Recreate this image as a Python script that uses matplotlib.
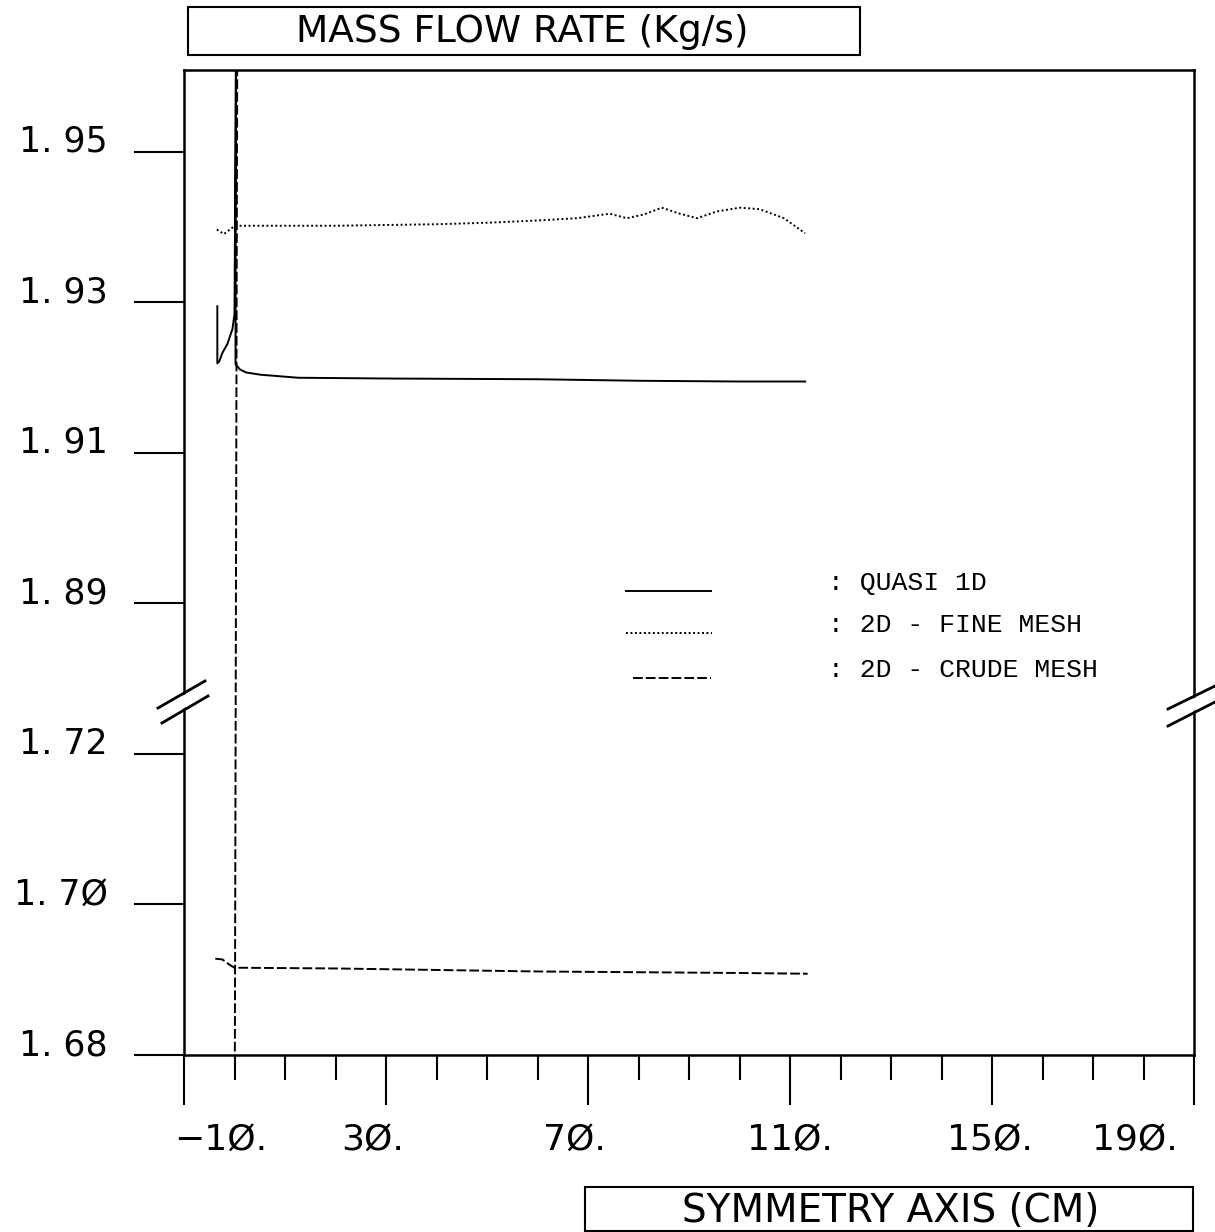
import matplotlib
matplotlib.use("Agg")
import matplotlib.pyplot as plt
import numpy as np
from matplotlib.lines import Line2D
from matplotlib.patches import Rectangle, Polygon
from matplotlib.ticker import FixedLocator, MultipleLocator, NullLocator

# ---- data (x in cm, mass flow in kg/s) ----
quasi_x = [-3.4, -3.4, -3.0, -2.4, -1.4, -0.4, 0.0, 0.4, 0.3, 0.2, 1.1, 2.3, 5.2, 12.6, 30.0, 60.0, 80.0, 100.0, 113.0]
quasi_m = [1.9295, 1.9219, 1.9222, 1.9233, 1.9245, 1.9265, 1.9285, 1.975, 1.975, 1.9218,
           1.9211, 1.9207, 1.9204, 1.9200, 1.9199, 1.9198, 1.9196, 1.9195, 1.9195]

fine_x = [-3.5, -2.1, -1.5, 0.1, 10.0, 20.0, 30.0, 40.0, 50.0, 60.0, 67.8, 74.3, 77.7,
          81.1, 84.6, 88.2, 91.6, 95.5, 100.1, 104.0, 108.8, 113.0]
fine_m = [1.9397, 1.9391, 1.9394, 1.9402, 1.9402, 1.9402, 1.9403, 1.9404, 1.9406, 1.9409,
          1.9412, 1.9418, 1.9412, 1.9417, 1.9426, 1.9418, 1.9412, 1.9421, 1.9426, 1.9424,
          1.9412, 1.9392]

crude_x = [-3.8, -2.4, -1.0, 0.0, 20.0, 40.0, 60.0, 80.0, 100.0, 113.5]
crude_m = [1.6928, 1.6927, 1.6920, 1.6916, 1.6915, 1.6913, 1.6911, 1.6910, 1.6909, 1.6908]
crude_spike_x = [0.0, 0.6]
crude_spike_m = [1.66, 1.98]

xticks = [-10, 30, 70, 110, 150, 190]
xtick_labels = ["\u22121\u00d8.", "3\u00d8.", "7\u00d8.", "11\u00d8.", "15\u00d8.", "19\u00d8."]
yticks = [1.68, 1.70, 1.72, 1.89, 1.91, 1.93, 1.95]
ytick_labels = ["1. 68", "1. 7\u00d8", "1. 72", "1. 89", "1. 91", "1. 93", "1. 95"]
legend_labels = [": QUASI 1D", ": 2D - FINE MESH", ": 2D - CRUDE MESH"]

# plotter put the x labels a bit off their ticks
xlabel_pos = [-2.7, 27.3, 67.4, 110.0, 149.6, 178.3]

W, H = 1215, 1232
U_BREAK = 2.35   # where the axis is cut (in tick units)
V_BREAK = 1.68 + 0.02 * U_BREAK


def fwd(v):
    v = np.asarray(v, dtype=float)
    return np.where(v < V_BREAK, (v - 1.68) / 0.02, 3 + (v - 1.89) / 0.02)


def inv(u):
    u = np.asarray(u, dtype=float)
    return np.where(u < U_BREAK, 1.68 + 0.02 * u, 1.89 + 0.02 * (u - 3))


def fx(px):
    return px / W


def fy(py):
    return 1 - py / H


fig = plt.figure(figsize=(W / 100, H / 100), dpi=100)
ax = fig.add_axes([fx(184), fy(1055), 1010 / W, 985 / H])

ax.set_yscale("function", functions=(fwd, inv))
ax.set_xlim(-10, 190)
ax.set_ylim(1.68, float(inv(985 / 150.5)))

solid = dict(color="k", lw=1.4, ls="-")
dotted = dict(color="k", lw=1.4, ls=(0, (1.0, 1.3)))
dashed = dict(color="k", lw=1.4, ls=(0, (5, 1.6)))

ax.plot(quasi_x, quasi_m, **solid)
ax.plot(fine_x, fine_m, **dotted)
ax.plot(crude_x, crude_m, **dashed)
ax.plot(crude_spike_x, crude_spike_m, **dashed)

for s in ax.spines.values():
    s.set_linewidth(1.8)

ax.xaxis.set_major_locator(FixedLocator(xticks))
ax.xaxis.set_minor_locator(MultipleLocator(10))
ax.yaxis.set_major_locator(FixedLocator(yticks))
ax.yaxis.set_minor_locator(NullLocator())
ax.tick_params(axis="x", which="major", direction="out", length=36, width=1.5, labelbottom=False)
ax.tick_params(axis="x", which="minor", direction="out", length=18, width=1.5)
ax.tick_params(axis="y", which="major", direction="out", length=36, width=1.5, labelleft=False)

for xv, lab in zip(xlabel_pos, xtick_labels):
    ax.text(xv, -0.0964, lab, transform=ax.get_xaxis_transform(), ha="center", va="baseline",
            fontsize=26, family="DejaVu Sans")
for yv, lab in zip(yticks, ytick_labels):
    ax.text(-0.0752, yv, lab, transform=ax.get_yaxis_transform(), ha="right", va="baseline",
            fontsize=25, family="DejaVu Sans")

# legend drawn by hand, like the plotter did
sample_styles = [solid, dotted, dashed]
sample_rows = [(626, 711, 591), (626, 712, 633), (633, 711, 678)]
for (x0, x1, yy), st, lab in zip(sample_rows, sample_styles, legend_labels):
    fig.add_artist(Line2D([fx(x0), fx(x1)], [fy(yy), fy(yy)], transform=fig.transFigure, **st))
    fig.text(fx(828), fy(yy - 1), lab, ha="left", va="baseline", fontsize=19, family="Liberation Mono")

# axis break marks
for (x0, y0, x1, y1), (x2, y2, x3, y3) in [((158, 708, 205, 681), (162, 723, 208, 696)),
                                           ((1168, 709, 1215, 686), (1168, 726, 1215, 702))]:
    fig.add_artist(Polygon([(fx(x0), fy(y0 + 2)), (fx(x1), fy(y1 + 2)), (fx(x3), fy(y3 - 2)),
                            (fx(x2), fy(y2 - 2))], closed=True, transform=fig.transFigure,
                           facecolor="white", edgecolor="none"))
    for a, b, c, d in [(x0, y0, x1, y1), (x2, y2, x3, y3)]:
        fig.add_artist(Line2D([fx(a), fx(c)], [fy(b), fy(d)], transform=fig.transFigure,
                              color="k", lw=2.0))

# boxed title and axis label
fig.add_artist(Rectangle((fx(188), fy(55)), (860 - 188) / W, (55 - 7) / H, transform=fig.transFigure,
                         fill=False, edgecolor="k", lw=1.5))
fig.text(fx(522), fy(32), "MASS FLOW RATE (Kg/s)", ha="center", va="center", fontsize=27,
         family="DejaVu Sans")
fig.add_artist(Rectangle((fx(585), fy(1231)), (1193 - 585) / W, (1231 - 1187) / H,
                         transform=fig.transFigure, fill=False, edgecolor="k", lw=1.5))
fig.text(fx(891), fy(1211), "SYMMETRY AXIS (CM)", ha="center", va="center", fontsize=28,
         family="DejaVu Sans")

fig.savefig("out.png", dpi=100)
